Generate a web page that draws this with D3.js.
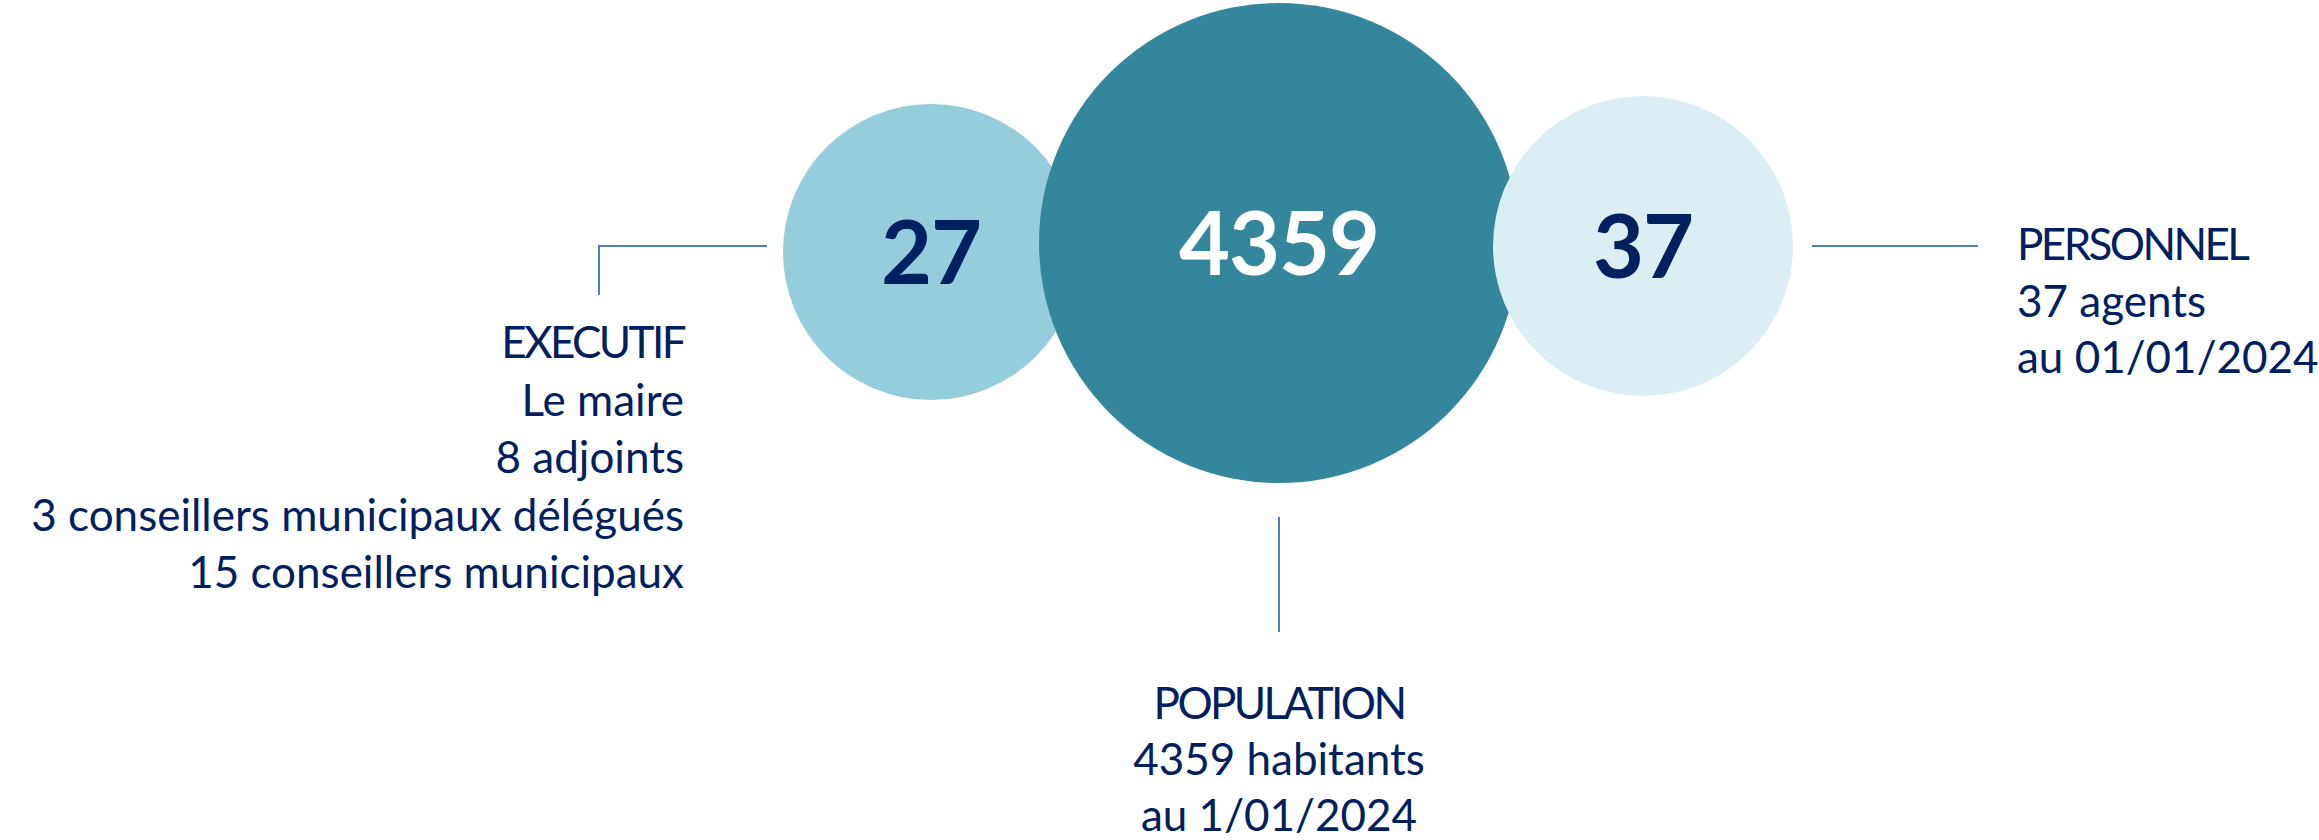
<!DOCTYPE html>
<html>
<head>
<meta charset="utf-8">
<script src="https://cdn.jsdelivr.net/npm/d3@7/dist/d3.min.js"></script>
<style>
  html, body { margin: 0; padding: 0; background: #ffffff; }
  svg { display: block; }
</style>
</head>
<body>
<div id="chart"></div>
<script>
// Data
const categories = ["EXECUTIF", "POPULATION", "PERSONNEL"];
const values = [27, 4359, 37];
const detailExecutif = ["Le maire", "8 adjoints", "3 conseillers municipaux délégués", "15 conseillers municipaux"];
const detailPopulation = ["4359 habitants", "au 1/01/2024"];
const detailPersonnel = ["37 agents", "au 01/01/2024"];
const details = [detailExecutif, detailPopulation, detailPersonnel];

const width = 2319, height = 840;
const navy = "#002060";
const lineColor = "#4f81bd";

const svg = d3.select("#chart")
  .append("svg")
  .attr("width", width)
  .attr("height", height)
  .attr("viewBox", `0 0 ${width} ${height}`);

// layout scales (category -> position / look)
const cx = d3.scaleOrdinal().domain(categories).range([931, 1279, 1643]);
const cy = d3.scaleOrdinal().domain(categories).range([252, 243, 246]);
const r = d3.scaleOrdinal().domain(categories).range([148, 240, 150]);
const fill = d3.scaleOrdinal().domain(categories).range(["#95cddd", "#33869c", "#dbeef4"]);
const numColor = d3.scaleOrdinal().domain(categories).range([navy, "#ffffff", navy]);

const items = categories.map((c, i) => ({ cat: c, value: values[i], lines: details[i] }));

// draw order: left, middle, right (right sits on top of middle)
svg.selectAll("circle.bubble")
  .data(items)
  .join("circle")
  .attr("class", "bubble")
  .attr("cx", d => cx(d.cat))
  .attr("cy", d => cy(d.cat))
  .attr("r", d => r(d.cat))
  .attr("fill", d => fill(d.cat));

const numSize = 88;
svg.selectAll("text.num")
  .data(items)
  .join("text")
  .attr("class", "num")
  .attr("x", d => cx(d.cat))
  .attr("y", d => cy(d.cat) + numSize * 0.36)
  .attr("text-anchor", "middle")
  .attr("font-family", "Lato, 'Open Sans', sans-serif")
  .attr("font-weight", 700)
  .attr("font-size", numSize)
  .attr("letter-spacing", -1)
  .attr("fill", d => numColor(d.cat))
  .text(d => d.value);

// connectors
const conn = svg.append("g")
  .attr("fill", "none")
  .attr("stroke", lineColor)
  .attr("stroke-width", 2);

const [left, mid, right] = categories;
const leftEnd = cx(left) - r(left) - 16;
conn.append("path")
  .attr("d", d3.line()([[leftEnd, cy(mid) + 3], [599, cy(mid) + 3], [599, 295]]));
const rightStart = cx(right) + r(right) + 19;
conn.append("line")
  .attr("x1", rightStart).attr("x2", rightStart + 166)
  .attr("y1", cy(right)).attr("y2", cy(right));
const midBottom = cy(mid) + r(mid);
conn.append("line")
  .attr("x1", cx(mid)).attr("x2", cx(mid))
  .attr("y1", midBottom + 34).attr("y2", midBottom + 149);

// labels
const labelSize = 44;
function label(x, y, anchor, title, lines, gap) {
  const t = svg.append("text")
    .attr("font-family", "Lato, 'Open Sans', sans-serif")
    .attr("font-size", labelSize)
    .attr("fill", navy)
    .attr("text-anchor", anchor);
  [title].concat(lines).forEach((s, i) => {
    t.append("tspan")
      .attr("x", x)
      .attr("y", y + i * gap)
      .attr("letter-spacing", i === 0 ? -2.6 : 0)
      .text(s);
  });
}

label(684, 358, "end", left, detailExecutif, 57.5);
label(cx(mid), 719, "middle", mid, detailPopulation, 56);
label(2017, 260, "start", right, detailPersonnel, 56.5);
</script>
</body>
</html>
